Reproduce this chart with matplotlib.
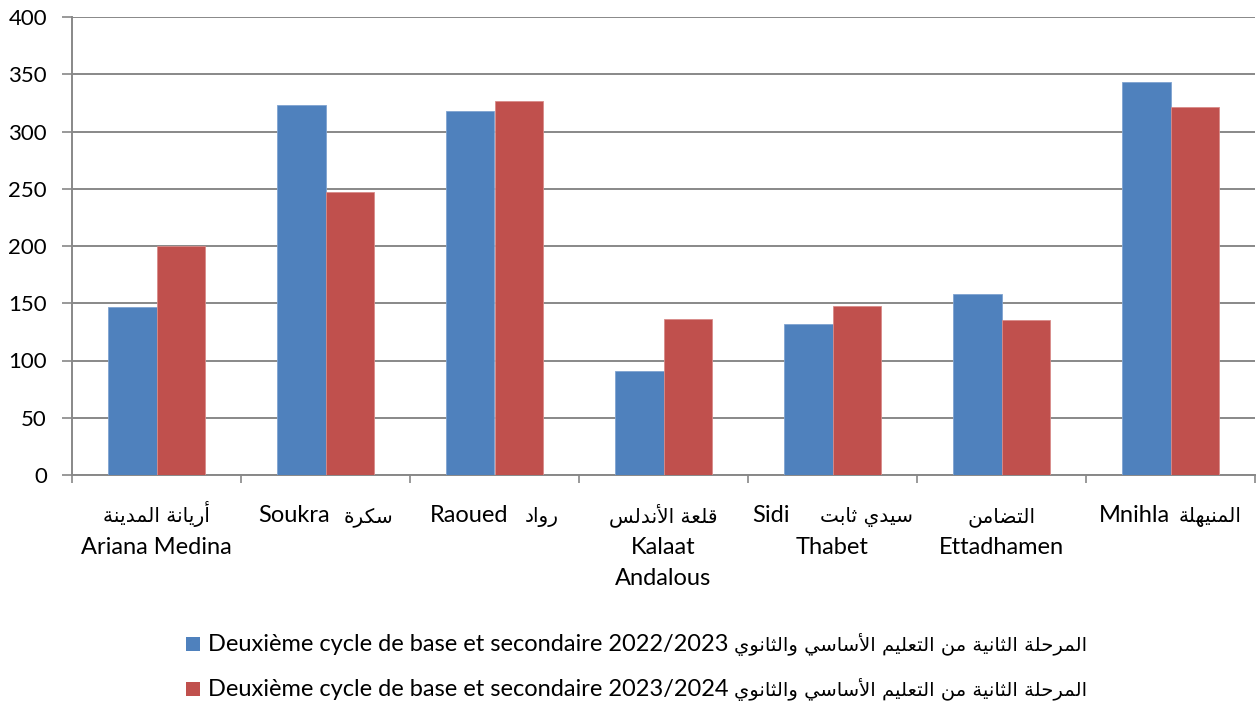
import matplotlib
matplotlib.use("Agg")
import matplotlib.pyplot as plt
from matplotlib.patches import Rectangle
import numpy as np

# ---------------- data ----------------
names_fr = ["Ariana Medina", "Soukra", "Raoued", "Kalaat\nAndalous", "Sidi|Thabet", "Ettadhamen", "Mnihla"]
names_ar = ["أريانة المدينة", "سكرة", "رواد", "قلعة الأندلس", "سيدي ثابت", "التضامن", "المنيهلة"]
values_2023 = [147, 323, 318, 91, 132, 158, 343]
values_2024 = [200, 247, 327, 136, 148, 135, 321]
series_fr = ["Deuxième cycle de base et secondaire 2022/2023",
             "Deuxième cycle de base et secondaire 2023/2024"]
series_ar = "المرحلة الثانية من التعليم الأساسي والثانوي"
y_ticks = [0, 50, 100, 150, 200, 250, 300, 350, 400]

# ------------- minimal Arabic shaping (visual order) -------------
FORMS = {
    'ا': (0xFE8D, 0xFE8E), 'أ': (0xFE83, 0xFE84),
    'ب': (0xFE8F, 0xFE90, 0xFE91, 0xFE92), 'ة': (0xFE93, 0xFE94),
    'ت': (0xFE95, 0xFE96, 0xFE97, 0xFE98), 'ث': (0xFE99, 0xFE9A, 0xFE9B, 0xFE9C),
    'ح': (0xFEA1, 0xFEA2, 0xFEA3, 0xFEA4), 'د': (0xFEA9, 0xFEAA),
    'ر': (0xFEAD, 0xFEAE), 'س': (0xFEB1, 0xFEB2, 0xFEB3, 0xFEB4),
    'ض': (0xFEBD, 0xFEBE, 0xFEBF, 0xFEC0), 'ع': (0xFEC9, 0xFECA, 0xFECB, 0xFECC),
    'ق': (0xFED5, 0xFED6, 0xFED7, 0xFED8), 'ك': (0xFED9, 0xFEDA, 0xFEDB, 0xFEDC),
    'ل': (0xFEDD, 0xFEDE, 0xFEDF, 0xFEE0), 'م': (0xFEE1, 0xFEE2, 0xFEE3, 0xFEE4),
    'ن': (0xFEE5, 0xFEE6, 0xFEE7, 0xFEE8), 'ه': (0xFEE9, 0xFEEA, 0xFEEB, 0xFEEC),
    'و': (0xFEED, 0xFEEE), 'ي': (0xFEF1, 0xFEF2, 0xFEF3, 0xFEF4),
}
LAMALEF = {'ا': (0xFEFB, 0xFEFC), 'أ': (0xFEF7, 0xFEF8)}


def shape(text):
    out = []
    n = len(text)
    i = 0
    while i < n:
        c = text[i]
        if c not in FORMS:
            out.append(c)
            i += 1
            continue
        prev = text[i - 1] if i > 0 else None
        prev_joins = prev in FORMS and len(FORMS[prev]) == 4
        if c == 'ل' and i + 1 < n and text[i + 1] in LAMALEF:
            lig = LAMALEF[text[i + 1]]
            out.append(chr(lig[1] if prev_joins else lig[0]))
            i += 2
            continue
        nxt = text[i + 1] if i + 1 < n else None
        f = FORMS[c]
        next_joins = len(f) == 4 and nxt in FORMS
        if prev_joins and next_joins:
            g = f[3]
        elif prev_joins:
            g = f[1]
        elif next_joins:
            g = f[2]
        else:
            g = f[0]
        out.append(chr(g))
        i += 1
    return ''.join(reversed(out))


# ------------- figure -------------
W, H = 1258, 704
plt.rcParams['font.family'] = ['Lato', 'DejaVu Sans']
fig = plt.figure(figsize=(W / 100, H / 100), dpi=100)
ax = fig.add_axes([72 / W, 1 - 475 / H, 1183 / W, 458 / H])

blue = "#4F81BD"
red = "#C0504D"
grid_c = "#888888"
LAT = dict(family=['Lato', 'DejaVu Sans'], fontsize=17, color='black')
ARB = dict(family=['DejaVu Sans'], fontsize=14.5, color='black')
ARB_LEG = dict(family=['DejaVu Sans'], fontsize=14, color='black')

n = len(names_fr)
x = np.arange(n)
w = 0.285
ax.bar(x - w / 2, values_2023, w, color=blue, edgecolor="#7FA3D0", linewidth=0.6, zorder=3)
ax.bar(x + w / 2, values_2024, w, color=red, edgecolor="#D88B89", linewidth=0.6, zorder=3)

ax.set_xlim(-0.5, n - 0.5)
ax.set_ylim(0, 400)
ax.set_yticks(y_ticks)
ax.yaxis.grid(True, color=grid_c, linewidth=1.4, zorder=0)
ax.set_axisbelow(True)

ax.set_xticks(np.arange(-0.5, n, 1.0))
ax.set_xticklabels([])
ax.tick_params(axis='x', length=6, width=1.2, color=grid_c, direction='out')
ax.tick_params(axis='y', length=7, width=1.2, color=grid_c, labelsize=16, pad=11)

for s in ("top", "right"):
    ax.spines[s].set_visible(False)
for s in ("left", "bottom"):
    ax.spines[s].set_color(grid_c)
    ax.spines[s].set_linewidth(1.4)

renderer = fig.canvas.get_renderer()


def px(xp, yp):
    return xp / W, 1 - yp / H


def place_line(start_or_center, baseline, pieces, centered=True):
    """pieces: list of (text, style) or (gap_px, None). Placed left to right."""
    objs = []
    total = 0.0
    for s, st in pieces:
        if st is None:
            objs.append((None, s))
            total += s
        else:
            t = fig.text(0, 0, s, ha='left', va='baseline', **st)
            wpx = t.get_window_extent(renderer).width
            objs.append((t, wpx))
            total += wpx
    xcur = start_or_center - total / 2 if centered else start_or_center
    for t, wpx in objs:
        if t is not None:
            t.set_position(px(xcur, baseline))
        xcur += wpx
    return xcur


# ------------- category labels -------------
baselines = [522, 554, 585]
gaps = {"Soukra": 14, "Raoued": 16, "Mnihla": 9, "Sidi": 30}
for i, (fr, ar) in enumerate(zip(names_fr, names_ar)):
    cx = ax.transData.transform((i, 0))[0]
    a = shape(ar)
    if fr in ("Soukra", "Raoued", "Mnihla"):
        lines = [[(fr, LAT), (gaps[fr], None), (a, ARB)]]
    elif "|" in fr:
        first, rest = fr.split("|")
        lines = [[(first, LAT), (gaps[first], None), (a, ARB)], [(rest, LAT)]]
    else:
        lines = [[(a, ARB)]] + [[(l, LAT)] for l in fr.split("\n")]
    for k, line in enumerate(lines):
        place_line(cx, baselines[k], line)

# ------------- legend -------------
leg_colors = [blue, red]
leg_base = [651, 696]
for k, (sfr, col) in enumerate(zip(series_fr, leg_colors)):
    yb = leg_base[k]
    fig.patches.append(Rectangle(px(186, yb), 14 / W, 14 / H, transform=fig.transFigure,
                                 facecolor=col, edgecolor='none'))
    place_line(208, yb, [(sfr, LAT), (5, None), (shape(series_ar), ARB_LEG)], centered=False)

fig.savefig("out.png", dpi=100)
